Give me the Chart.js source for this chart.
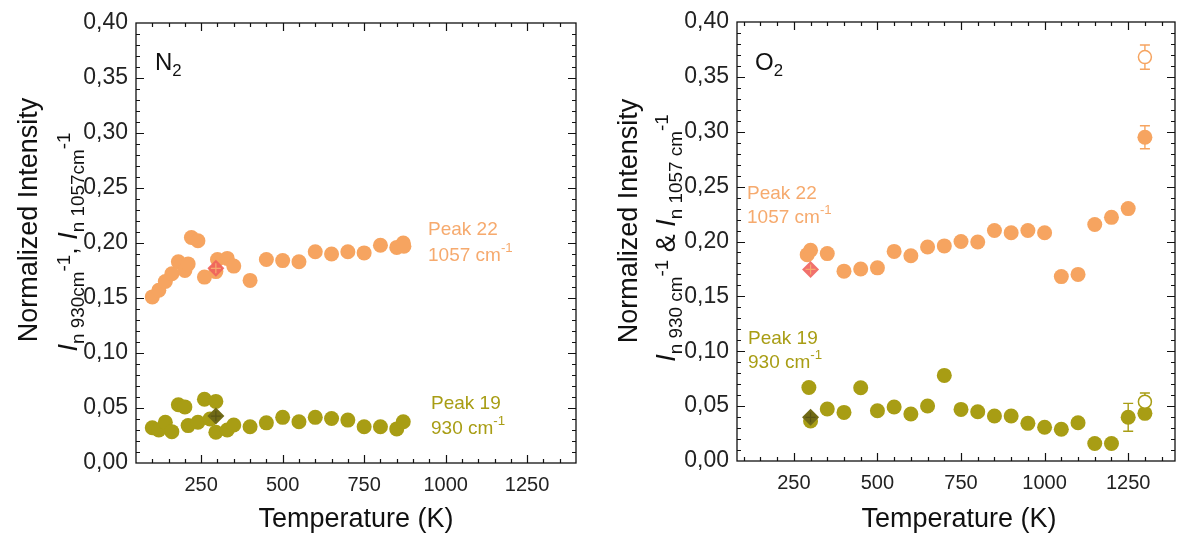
<!DOCTYPE html>
<html><head><meta charset="utf-8">
<script src="https://cdn.jsdelivr.net/npm/chart.js@4.4.0/dist/chart.umd.min.js"></script>
<style>
body{margin:0;background:#fff;width:1179px;height:535px;overflow:hidden;position:relative;font-family:"Liberation Sans",Arial,sans-serif;}
canvas{position:absolute;top:0;}
#cL{left:0;} #cR{left:600px;}
.t{position:absolute;white-space:nowrap;color:#111;line-height:1;}
.rot{transform:translate(-50%,-50%) rotate(-90deg);}
.ctr{transform:translate(-50%,-50%);}
.ytitle{font-size:27px;}
.xtitle{font-size:27px;}
.ann{font-size:19px;line-height:1;}
.gas{font-size:24px;}
sub{font-size:0.7em;vertical-align:-0.35em;line-height:0;}
sup{font-size:0.7em;vertical-align:0.65em;line-height:0;}
.ytitle sup{vertical-align:0.35em;}
.ytitle sub{vertical-align:-0.4em;}
.c22{color:rgb(246,170,110);} .c19{color:rgb(168,157,20);}
</style>
</head>
<body>
<canvas id="cL" width="600" height="535"></canvas>
<canvas id="cR" width="579" height="535"></canvas>

<div class="t rot ytitle" style="left:28px;top:220px;">Normalized Intensity</div>
<div class="t rot ytitle" style="left:68px;top:242px;"><i>I</i><sub>n 930cm</sub><sup>-1</sup>, <i>I</i><sub>n 1057cm</sub><sup>-1</sup></div>
<div class="t rot ytitle" style="left:628px;top:221px;">Normalized Intensity</div>
<div class="t rot ytitle" style="left:666px;top:238px;"><i>I</i><sub>n 930 cm</sub><sup>-1</sup> &amp; <i>I</i><sub>n 1057 cm</sub><sup>-1</sup></div>

<div class="t ctr xtitle" style="left:356px;top:518px;">Temperature (K)</div>
<div class="t ctr xtitle" style="left:959px;top:518px;">Temperature (K)</div>

<div class="t gas" style="left:155px;top:50px;">N<sub>2</sub></div>
<div class="t gas" style="left:755px;top:50px;">O<sub>2</sub></div>

<div class="t ann c22" style="left:428px;top:219px;">Peak 22</div>
<div class="t ann c22" style="left:428px;top:245px;">1057 cm<sup>-1</sup></div>
<div class="t ann c19" style="left:431px;top:393px;">Peak 19</div>
<div class="t ann c19" style="left:431px;top:418px;">930 cm<sup>-1</sup></div>

<div class="t ann c22" style="left:747px;top:183px;">Peak 22</div>
<div class="t ann c22" style="left:747px;top:207px;">1057 cm<sup>-1</sup></div>
<div class="t ann c19" style="left:748px;top:328px;">Peak 19</div>
<div class="t ann c19" style="left:748px;top:352px;">930 cm<sup>-1</sup></div>

<script>
// ---------- colours ----------
const COL22 = 'rgb(246,164,96)';
const COL19 = 'rgb(168,157,20)';
const REF22 = 'rgba(240,98,92,0.9)';
const REF19 = 'rgb(112,106,22)';

// ---------- tick labels ----------
const xMajor = [250, 500, 750, 1000, 1250];
const yMajor = [0, 0.05, 0.10, 0.15, 0.20, 0.25, 0.30, 0.35, 0.40];

// ---------- N2 panel ----------
const n2T22 = [100,120,140,160,180,200,210,220,240,260,295,300,330,350,400,450,500,550,600,650,700,750,800,850,870,872];
const n2V22 = [0.151,0.157,0.165,0.172,0.183,0.175,0.181,0.205,0.202,0.169,0.174,0.185,0.186,0.179,0.166,0.185,0.184,0.183,0.192,0.190,0.192,0.191,0.198,0.196,0.200,0.197];
const n2T19 = [100,120,140,160,180,200,210,240,260,277,295,295,330,350,400,450,500,550,600,650,700,750,800,850,870];
const n2V19 = [0.032,0.030,0.037,0.0285,0.053,0.051,0.034,0.037,0.058,0.040,0.056,0.028,0.030,0.0345,0.033,0.0365,0.0415,0.0375,0.0415,0.0405,0.039,0.033,0.033,0.031,0.0375];
const n2RefT = [295];
const n2Ref22 = [0.177];
const n2Ref19 = [0.0427];

// ---------- O2 panel ----------
const o2T22 = [290,300,350,400,450,500,550,600,650,700,750,800,850,900,950,1000,1050,1100,1150,1200,1250,1300];
const o2V22 = [0.188,0.192,0.189,0.173,0.175,0.176,0.191,0.187,0.195,0.196,0.200,0.1995,0.210,0.208,0.210,0.208,0.168,0.170,0.2155,0.222,0.230,0.295];
const o2E22 = [0,0,0,0,0,0,0,0,0,0,0,0,0,0,0,0,0,0,0,0,0,0.0105];
const o2T19 = [295,300,350,400,450,500,550,600,650,700,750,800,850,900,950,1000,1050,1100,1150,1200,1250,1300];
const o2V19 = [0.067,0.0365,0.0474,0.0443,0.0668,0.0458,0.0492,0.0428,0.0501,0.078,0.047,0.0449,0.041,0.041,0.0343,0.0307,0.0289,0.0349,0.016,0.016,0.0398,0.0434];
const o2E19 = [0,0,0,0,0,0,0,0,0,0,0,0,0,0,0,0,0,0,0,0,0.0127,0];
const o2OpenT = [1300];
const o2Open22 = [0.368];
const o2Open22E = [0.011];
const o2Open19 = [0.054];
const o2Open19E = [0.008];
const o2RefT = [300];
const o2Ref22 = [0.1746];
const o2Ref19 = [0.0398];

const pts = (xs, ys) => xs.map((x, i) => ({x: x, y: ys[i]}));
const FONT = '"Liberation Sans", Arial, sans-serif';

const framePlugin = {
  id: 'frame',
  beforeDatasetsDraw(chart) {
    const ctx = chart.ctx, xs = chart.scales.x, ys = chart.scales.y;
    chart.data.datasets.forEach(ds => {
      if (!ds.errors) return;
      ctx.save();
      ctx.strokeStyle = ds.errColor || ds.borderColor;
      ctx.lineWidth = 1.4;
      ds.data.forEach((p, i) => {
        const e = ds.errors[i];
        if (!e) return;
        const px = xs.getPixelForValue(p.x);
        const y1 = ys.getPixelForValue(p.y + e), y2 = ys.getPixelForValue(p.y - e);
        ctx.beginPath();
        ctx.moveTo(px, y1); ctx.lineTo(px, y2);
        ctx.moveTo(px - 5, y1); ctx.lineTo(px + 5, y1);
        ctx.moveTo(px - 5, y2); ctx.lineTo(px + 5, y2);
        ctx.stroke();
      });
      ctx.restore();
    });
  },
  afterDraw(chart) {
    const ctx = chart.ctx, a = chart.chartArea, xs = chart.scales.x, ys = chart.scales.y;
    ctx.save();
    ctx.strokeStyle = '#111';
    ctx.lineWidth = 1.3;
    ctx.strokeRect(a.left, a.top, a.right - a.left, a.bottom - a.top);
    ctx.lineWidth = 1.2;
    ctx.beginPath();
    for (let v = 0; v <= 1400 + 1e-6; v += 50) {
      if (v <= xs.min || v >= xs.max) continue;
      const px = Math.round(xs.getPixelForValue(v)) + 0.5;
      const len = (v % 250 === 0) ? 8 : 4;
      ctx.moveTo(px, a.bottom); ctx.lineTo(px, a.bottom - len);
      ctx.moveTo(px, a.top); ctx.lineTo(px, a.top + len);
    }
    for (let k = 1; k < 40; k++) {
      const v = k / 100;
      const py = Math.round(ys.getPixelForValue(v)) + 0.5;
      const len = (k % 5 === 0) ? 8 : 4;
      ctx.moveTo(a.left, py); ctx.lineTo(a.left + len, py);
      ctx.moveTo(a.right, py); ctx.lineTo(a.right - len, py);
    }
    ctx.stroke();
    ctx.restore();
  }
};

function makeChart(id, xmin, xmax, yW, xH, pad, datasets) {
  return new Chart(document.getElementById(id), {
    type: 'scatter',
    data: {datasets: datasets},
    options: {
      responsive: false,
      animation: false,
      events: [],
      layout: {padding: pad, autoPadding: false},
      plugins: {legend: {display: false}, tooltip: {enabled: false}},
      scales: {
        x: {
          type: 'linear', min: xmin, max: xmax,
          afterBuildTicks: s => { s.ticks = xMajor.map(v => ({value: v})); },
          afterFit: s => { s.height = xH; s.paddingLeft = 0; s.paddingRight = 0; },
          grid: {display: false, drawTicks: false},
          border: {display: false},
          ticks: {font: {size: 20, family: FONT}, color: '#222', padding: 10, maxRotation: 0, autoSkip: false,
                  callback: v => String(v)}
        },
        y: {
          type: 'linear', min: 0, max: 0.40,
          afterBuildTicks: s => { s.ticks = yMajor.map(v => ({value: v})); },
          afterFit: s => { s.width = yW; s.paddingTop = 0; s.paddingBottom = 0; },
          grid: {display: false, drawTicks: false},
          border: {display: false},
          ticks: {font: {size: 23, family: FONT}, color: '#222', padding: 8,
                  callback: v => v.toFixed(2).replace('.', ',')}
        }
      }
    },
    plugins: [framePlugin]
  });
}

const R = 7.5;
function circles(data, col, errors) {
  return {data: data, pointStyle: 'circle', pointRadius: R, backgroundColor: col, borderColor: col,
          pointBorderWidth: 0, errors: errors, errColor: col};
}
function refMarks(data, col, crossCol) {
  return [
    {data: data, pointStyle: 'cross', pointRadius: 5, borderColor: crossCol, pointBorderWidth: 1.2, backgroundColor: crossCol},
    {data: data, pointStyle: 'rectRot', pointRadius: 8.5, backgroundColor: col, borderColor: col, pointBorderWidth: 0}
  ];
}

makeChart('cL', 50, 1400, 136, 72, {left: 0, right: 24, top: 23, bottom: 0}, [
  ...refMarks(pts(n2RefT, n2Ref19), REF19, 'rgb(90,85,20)'),
  ...refMarks(pts(n2RefT, n2Ref22), REF22, 'rgb(246,170,110)'),
  circles(pts(n2T22, n2V22), COL22),
  circles(pts(n2T19, n2V19), COL19)
]);

makeChart('cR', 80, 1390, 137, 74, {left: 0, right: 4, top: 22, bottom: 0}, [
  ...refMarks(pts(o2RefT, o2Ref19), REF19, 'rgb(90,85,20)'),
  ...refMarks(pts(o2RefT, o2Ref22), REF22, 'rgb(246,170,110)'),
  {data: pts(o2OpenT, o2Open22), pointStyle: 'circle', pointRadius: 6.5, backgroundColor: '#fff',
   borderColor: COL22, pointBorderWidth: 1.5, errors: o2Open22E, errColor: COL22},
  {data: pts(o2OpenT, o2Open19), pointStyle: 'circle', pointRadius: 6.5, backgroundColor: '#fff',
   borderColor: COL19, pointBorderWidth: 1.5, errors: o2Open19E, errColor: COL19},
  circles(pts(o2T22, o2V22), COL22, o2E22),
  circles(pts(o2T19, o2V19), COL19, o2E19)
]);
</script>
</body></html>
